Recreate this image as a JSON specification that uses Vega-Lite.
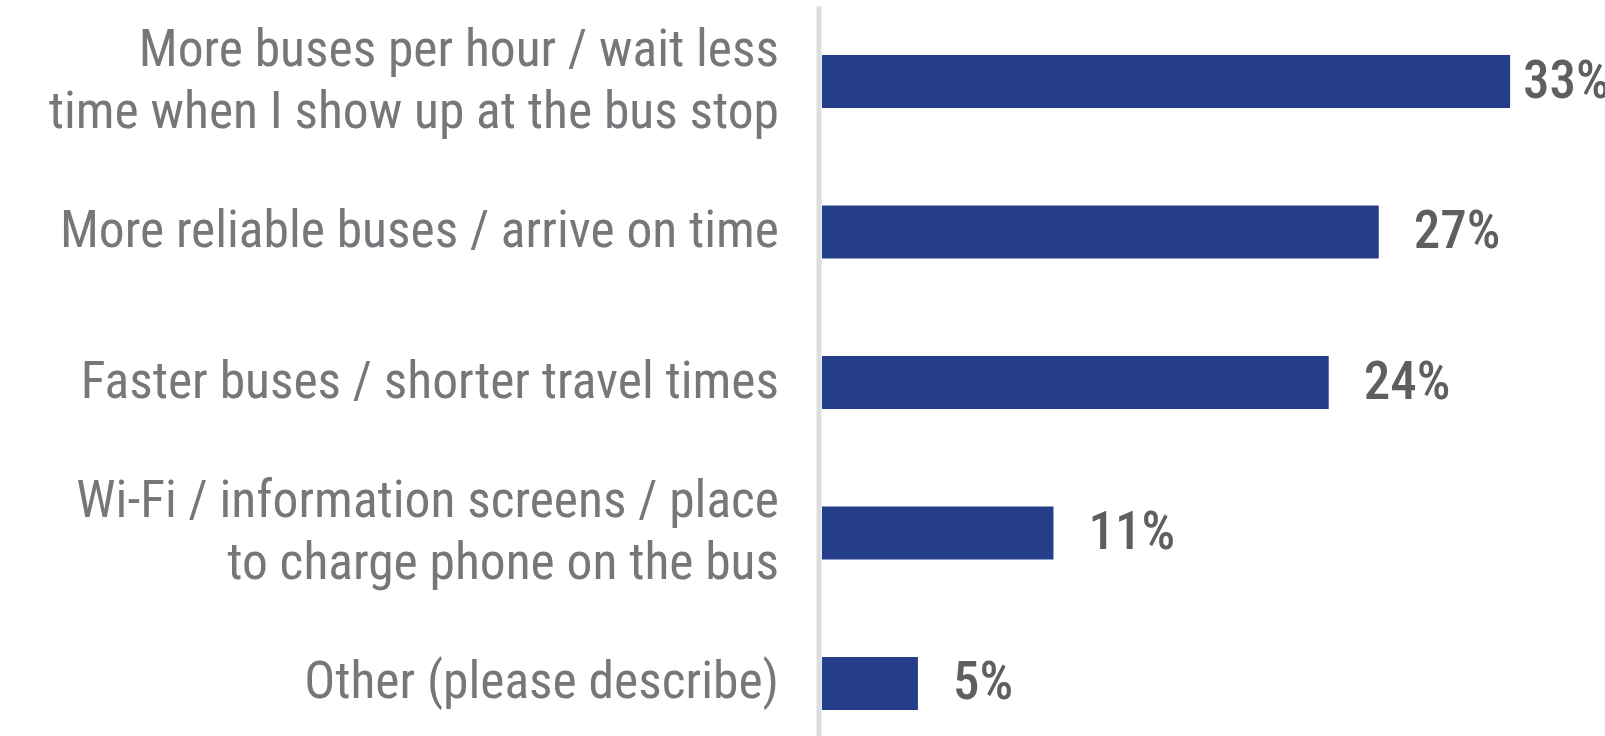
{
  "$schema": "https://vega.github.io/schema/vega-lite/v6.json",
  "autosize": {"type": "none"},
  "width": 783,
  "height": 753,
  "padding": {"left": 822, "top": 6, "right": 0, "bottom": 0},
  "background": "white",
  "config": {"view": {"stroke": null}},
  "data": {
    "values": [
      {"option": "More buses per hour / wait less|time when I show up at the bus stop", "share": 33.0, "label": "33%"},
      {"option": "More reliable buses / arrive on time", "share": 26.7, "label": "27%"},
      {"option": "Faster buses / shorter travel times", "share": 24.3, "label": "24%"},
      {"option": "Wi-Fi / information screens / place|to charge phone on the bus", "share": 11.1, "label": "11%"},
      {"option": "Other (please describe)", "share": 4.6, "label": "5%"}
    ]
  },
  "encoding": {
    "y": {
      "field": "option",
      "type": "nominal",
      "sort": null,
      "title": null,
      "scale": {"paddingInner": 0.648, "paddingOuter": 0.326},
      "axis": {
        "ticks": false,
        "domain": true,
        "domainColor": "#dcdde0",
        "domainWidth": 5,
        "offset": 3.5,
        "labelPadding": 40,
        "labelFont": "Roboto Condensed",
        "labelFontSize": 51.5,
        "labelColor": "#77777b",
        "labelLineHeight": 62,
        "labelLimit": 900,
        "labelOffset": {"condition": {"test": "indexof(datum.value, '|') >= 0", "value": -31}, "value": 0},
        "labelExpr": "split(datum.value, '|')"
      }
    },
    "x": {
      "field": "share",
      "type": "quantitative",
      "scale": {"domain": [0, 37.55], "nice": false},
      "axis": null
    }
  },
  "layer": [
    {"mark": {"type": "bar", "color": "#243e8a"}},
    {
      "transform": [{"filter": "datum.share < 30"}],
      "mark": {"type": "text", "align": "left", "baseline": "middle", "dx": 35, "font": "Roboto Condensed", "fontWeight": 500, "fontSize": 53, "color": "#5f5f5f"},
      "encoding": {"text": {"field": "label"}}
    },
    {
      "transform": [{"filter": "datum.share >= 30"}],
      "mark": {"type": "text", "align": "left", "baseline": "middle", "dx": 13, "font": "Roboto Condensed", "fontWeight": 500, "fontSize": 53, "color": "#5f5f5f"},
      "encoding": {"text": {"field": "label"}}
    }
  ]
}
